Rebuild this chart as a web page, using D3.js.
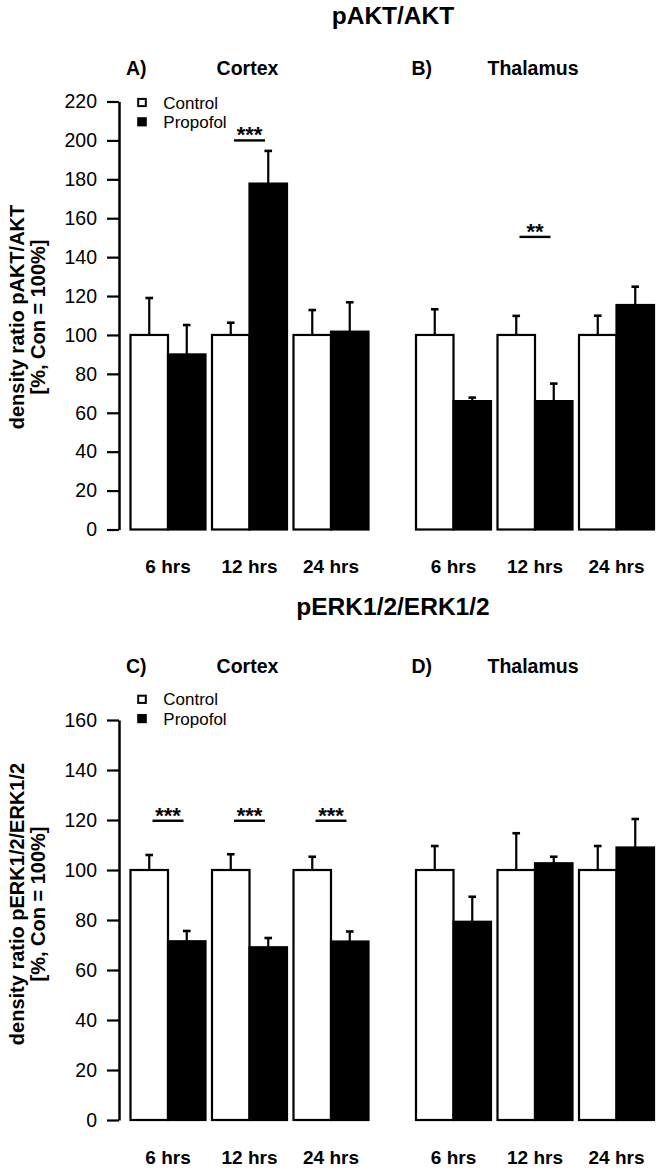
<!DOCTYPE html>
<html>
<head>
<meta charset="utf-8">
<script src="https://cdn.jsdelivr.net/npm/d3@7"></script>
<style>
  html, body { margin: 0; padding: 0; background: #fff; }
  svg { display: block; font-family: "Liberation Sans", Arial, sans-serif; }
</style>
</head>
<body>
<script>
// ---------- DATA ----------
const groups = ["6 hrs", "12 hrs", "24 hrs"];
const seriesNames = ["Control", "Propofol"];

// pAKT/AKT – Cortex (A)
const aktCortexControl    = [100, 100, 100];
const aktCortexControlErr = [19, 6.3, 12.8];
const aktCortexPropofol   = [90, 177.8, 101.7];
const aktCortexPropofolErr= [15.1, 16.8, 15.1];
const aktCortexSig        = ["", "***", ""];
const aktCortexSigLevel   = [null, 200, null];

// pAKT/AKT – Thalamus (B)
const aktThalControl      = [100, 100, 100];
const aktThalControlErr   = [13.2, 9.8, 9.9];
const aktThalPropofol     = [66, 66, 115.4];
const aktThalPropofolErr  = [1.8, 9, 9.4];
const aktThalSig          = ["", "**", ""];
const aktThalSigLevel     = [null, 150.4, null];

// pERK1/2/ERK1/2 – Cortex (C)
const erkCortexControl    = [100, 100, 100];
const erkCortexControlErr = [6, 6.3, 5.3];
const erkCortexPropofol   = [71.5, 69.1, 71.4];
const erkCortexPropofolErr= [4.1, 3.7, 4.0];
const erkCortexSig        = ["***", "***", "***"];
const erkCortexSigLevel   = [119.7, 119.7, 119.7];

// pERK1/2/ERK1/2 – Thalamus (D)
const erkThalControl      = [100, 100, 100];
const erkThalControlErr   = [9.6, 14.7, 9.6];
const erkThalPropofol     = [79.3, 102.7, 109];
const erkThalPropofolErr  = [10, 2.6, 11.4];

const aktTicks = [0, 20, 40, 60, 80, 100, 120, 140, 160, 180, 200, 220];
const erkTicks = [0, 20, 40, 60, 80, 100, 120, 140, 160];

// ---------- DRAW ----------
const W = 662, H = 1171;
const FONT = '"Liberation Sans", Arial, sans-serif';
const svg = d3.select("body").append("svg").attr("width", W).attr("height", H);

const yAkt = d3.scaleLinear().domain([0, 220]).range([529.5, 101.5]);
const yErk = d3.scaleLinear().domain([0, 160]).range([1120, 720]);

function makeX(left) {
  return d3.scaleBand().domain(groups).range([left, left + 238]).paddingInner(0.0798).paddingOuter(0);
}
const xA = makeX(130.5);
const xB = makeX(416);

function panel(o) {
  const g = svg.append("g");
  const x0 = o.x, y = o.y;
  const x1 = d3.scaleBand().domain(seriesNames).range([0, x0.bandwidth()]).padding(0);
  const rows = [];
  groups.forEach((grp, i) => {
    rows.push({grp, s: "Control", v: o.control[i], e: o.controlErr[i]});
    rows.push({grp, s: "Propofol", v: o.propofol[i], e: o.propofolErr[i]});
  });
  // error bars
  rows.forEach(d => {
    const cx = x0(d.grp) + x1(d.s) + x1.bandwidth() / 2;
    g.append("line").attr("x1", cx).attr("x2", cx)
      .attr("y1", y(d.v)).attr("y2", y(d.v + d.e))
      .attr("stroke", "#000").attr("stroke-width", 2.2);
    g.append("line").attr("x1", cx - 3.8).attr("x2", cx + 3.8)
      .attr("y1", y(d.v + d.e)).attr("y2", y(d.v + d.e))
      .attr("stroke", "#000").attr("stroke-width", 2.6);
  });
  // bars
  g.selectAll("rect.bar").data(rows).join("rect")
    .attr("class", "bar")
    .attr("x", d => x0(d.grp) + x1(d.s))
    .attr("y", d => y(d.v))
    .attr("width", x1.bandwidth())
    .attr("height", d => y(0) - y(d.v))
    .attr("fill", d => d.s === "Control" ? "#fff" : "#000")
    .attr("stroke", "#000").attr("stroke-width", 2.2);

  // x labels
  groups.forEach(grp => {
    g.append("text").attr("x", x0(grp) + x0.bandwidth() / 2).attr("y", o.xLabelY)
      .attr("text-anchor", "middle").attr("font-weight", "bold").attr("font-size", 19)
      .attr("font-family", FONT).text(grp);
  });

  // significance
  if (o.sig) {
    groups.forEach((grp, i) => {
      if (!o.sig[i]) return;
      const cx = x0(grp) + x0.bandwidth() / 2;
      const ly = y(o.sigLevel[i]);
      g.append("line").attr("x1", cx - 15.5).attr("x2", cx + 15.5).attr("y1", ly).attr("y2", ly)
        .attr("stroke", "#000").attr("stroke-width", 2.4);
      g.append("text").attr("x", cx).attr("y", ly + 2).attr("text-anchor", "middle")
        .attr("font-weight", "bold").attr("font-size", 22).attr("font-family", FONT).text(o.sig[i]);
    });
  }

  // panel headers
  const left = x0.range()[0];
  g.append("text").attr("x", left - 4.5).attr("y", o.headerY)
    .attr("font-weight", "bold").attr("font-size", 19.5).attr("font-family", FONT).text(o.letter);
  g.append("text").attr("x", x0("12 hrs") + x0.bandwidth() / 2 - 2).attr("y", o.headerY)
    .attr("text-anchor", "middle").attr("font-weight", "bold").attr("font-size", 19.5)
    .attr("font-family", FONT).text(o.region);

  // axis
  if (o.ticks) {
    const ax = g.append("g").attr("transform", "translate(119,0)")
      .call(d3.axisLeft(y).tickValues(o.ticks).tickSize(12).tickPadding(10).tickSizeOuter(0));
    ax.select(".domain").attr("stroke-width", 2.5).attr("stroke", "#000");
    ax.selectAll(".tick line").attr("stroke-width", 2.2).attr("stroke", "#000");
    ax.selectAll(".tick text").attr("font-size", 19.5).attr("font-family", FONT).attr("fill", "#000");
  }

  // legend
  if (o.legendY !== undefined) {
    seriesNames.forEach((s, i) => {
      const cy = o.legendY + i * 19.3;
      g.append("rect").attr("x", 138.2).attr("y", cy - 3.6).attr("width", 7.6).attr("height", 7.2)
        .attr("fill", s === "Control" ? "#fff" : "#000").attr("stroke", "#000").attr("stroke-width", 2);
      g.append("text").attr("x", 163.3).attr("y", cy).attr("dy", "0.36em")
        .attr("font-size", 17).attr("font-family", FONT).text(s);
    });
  }

  // y label
  if (o.yLabel) {
    const t = g.append("text").attr("transform", `translate(0,${o.yLabelCenter}) rotate(-90)`)
      .attr("text-anchor", "middle").attr("font-weight", "bold").attr("font-size", 20)
      .attr("font-family", FONT);
    t.append("tspan").attr("x", 0).attr("y", 24).text(o.yLabel[0]);
    t.append("tspan").attr("x", 0).attr("y", 45).text(o.yLabel[1]);
  }
}

// titles
svg.append("text").attr("x", 393).attr("y", 24).attr("text-anchor", "middle")
  .attr("font-weight", "bold").attr("font-size", 24.5).attr("font-family", FONT).text("pAKT/AKT");
svg.append("text").attr("x", 393).attr("y", 615).attr("text-anchor", "middle")
  .attr("font-weight", "bold").attr("font-size", 24.5).attr("font-family", FONT).text("pERK1/2/ERK1/2");

panel({x: xA, y: yAkt, control: aktCortexControl, controlErr: aktCortexControlErr,
  propofol: aktCortexPropofol, propofolErr: aktCortexPropofolErr, sig: aktCortexSig, sigLevel: aktCortexSigLevel,
  ticks: aktTicks, xLabelY: 573, headerY: 75, letter: "A)", region: "Cortex", legendY: 102.5,
  yLabel: ["density ratio pAKT/AKT", "[%, Con = 100%]"], yLabelCenter: 317});
panel({x: xB, y: yAkt, control: aktThalControl, controlErr: aktThalControlErr,
  propofol: aktThalPropofol, propofolErr: aktThalPropofolErr, sig: aktThalSig, sigLevel: aktThalSigLevel,
  xLabelY: 573, headerY: 75, letter: "B)", region: "Thalamus"});
panel({x: xA, y: yErk, control: erkCortexControl, controlErr: erkCortexControlErr,
  propofol: erkCortexPropofol, propofolErr: erkCortexPropofolErr, sig: erkCortexSig, sigLevel: erkCortexSigLevel,
  ticks: erkTicks, xLabelY: 1164, headerY: 673, letter: "C)", region: "Cortex", legendY: 699.3,
  yLabel: ["density ratio pERK1/2/ERK1/2", "[%, Con = 100%]"], yLabelCenter: 904});
panel({x: xB, y: yErk, control: erkThalControl, controlErr: erkThalControlErr,
  propofol: erkThalPropofol, propofolErr: erkThalPropofolErr,
  xLabelY: 1164, headerY: 673, letter: "D)", region: "Thalamus"});
</script>
</body>
</html>
